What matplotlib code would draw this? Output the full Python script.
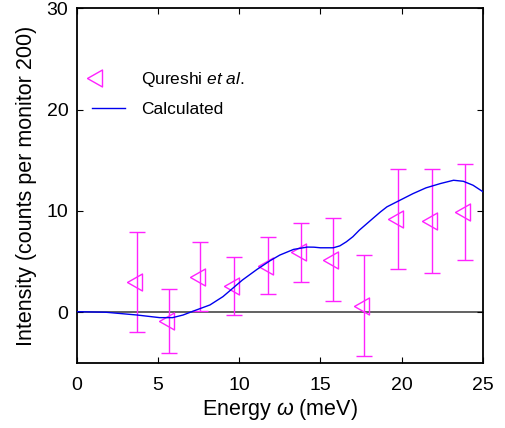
import numpy as np
import matplotlib
matplotlib.use("Agg")
import matplotlib.pyplot as plt
from matplotlib.lines import Line2D
from matplotlib.legend_handler import HandlerLine2D

plt.rcParams['font.family'] = ['Liberation Sans', 'DejaVu Sans']
plt.rcParams['mathtext.fontset'] = 'custom'
plt.rcParams['mathtext.rm'] = 'Liberation Sans'
plt.rcParams['mathtext.it'] = 'Liberation Sans:italic'

# Measured points (Qureshi et al.)
energy = [3.7, 5.7, 7.6, 9.7, 11.8, 13.8, 15.8, 17.7, 19.8, 21.9, 23.9]
intensity = [3.0, -0.9, 3.5, 2.6, 4.6, 5.9, 5.2, 0.65, 9.2, 9.0, 9.9]
err = [4.9, 3.15, 3.4, 2.9, 2.8, 2.95, 4.1, 5.0, 4.9, 5.1, 4.75]

# Calculated curve
calc_x = [0.0, 1.8, 3.7, 5.1, 5.9, 6.55, 7.2, 8.2, 9.0, 9.6, 10.2, 11.1, 11.9,
          12.5, 13.35, 14.2, 14.6, 15.0, 15.8, 16.2, 16.6, 17.0, 17.4, 18.3,
          18.7, 19.1, 19.9, 20.7, 21.5, 22.4, 23.2, 23.8, 24.4, 25.0]
calc_y = [0.06, 0.0, -0.27, -0.53, -0.53, -0.27, 0.13, 0.72, 1.54, 2.36, 3.18,
          4.23, 5.08, 5.64, 6.2, 6.43, 6.42, 6.36, 6.36, 6.55, 6.95, 7.45, 8.1,
          9.35, 9.9, 10.4, 11.05, 11.7, 12.27, 12.7, 13.02, 12.92, 12.53, 11.9]

mag = '#ff22ff'
blue = '#0000ee'
# left-pointing triangle centred on its centroid
tri = [(-2, 0), (1, -1.7), (1, 1.7), (-2, 0)]


class LeftMarker(HandlerLine2D):
    # put the legend marker near the left of the handle box
    def get_xdata(self, legend, xdescent, ydescent, width, height, fontsize):
        x0 = -xdescent + 0.25 * fontsize
        return [x0 - 1, x0 + 1], [x0]


fig = plt.figure(figsize=(5.05, 4.28), dpi=100)
ax = fig.add_axes([0.152, 0.152, 0.804, 0.829])

ax.axhline(0, color='#555555', lw=1.3, zorder=1)
ax.plot(calc_x, calc_y, color=blue, lw=1.0, zorder=3)
ax.errorbar(energy, intensity, yerr=err, fmt='none', ecolor=mag,
            elinewidth=1.0, capsize=5.5, capthick=1.0, zorder=2)
ax.plot(energy, intensity, ls='none', marker=tri, ms=14.4, mfc='none',
        mec=mag, mew=1.0, zorder=2)

ax.set_xlim(0, 25)
ax.set_ylim(-5, 30)
ax.set_xticks([0, 5, 10, 15, 20, 25])
ax.set_yticks([0, 10, 20, 30])
ax.tick_params(direction='in', top=True, right=True, length=4, labelsize=14)
ax.tick_params(axis='x', pad=10)
ax.tick_params(axis='y', pad=6)
for s in ax.spines.values():
    s.set_linewidth(1.3)

ax.set_xlabel(r'Energy $\omega$ (meV)', fontsize=15.5, labelpad=2)
ax.set_ylabel('Intensity (counts per monitor 200)', fontsize=15.5, labelpad=7)

tri_handle = Line2D([], [], ls='none', marker=tri, ms=14.4, mfc='none', mec=mag)
line_handle = Line2D([], [], color=blue, lw=1.0)
ax.legend([tri_handle, line_handle], [r'Qureshi $\it{et\ al.}$', 'Calculated'],
          handler_map={tri_handle: LeftMarker()}, loc='upper left',
          bbox_to_anchor=(0.0, 0.869), frameon=False, fontsize=12.5,
          handlelength=1.85, handletextpad=0.95, labelspacing=0.72)

fig.savefig('out.png', dpi=100)
